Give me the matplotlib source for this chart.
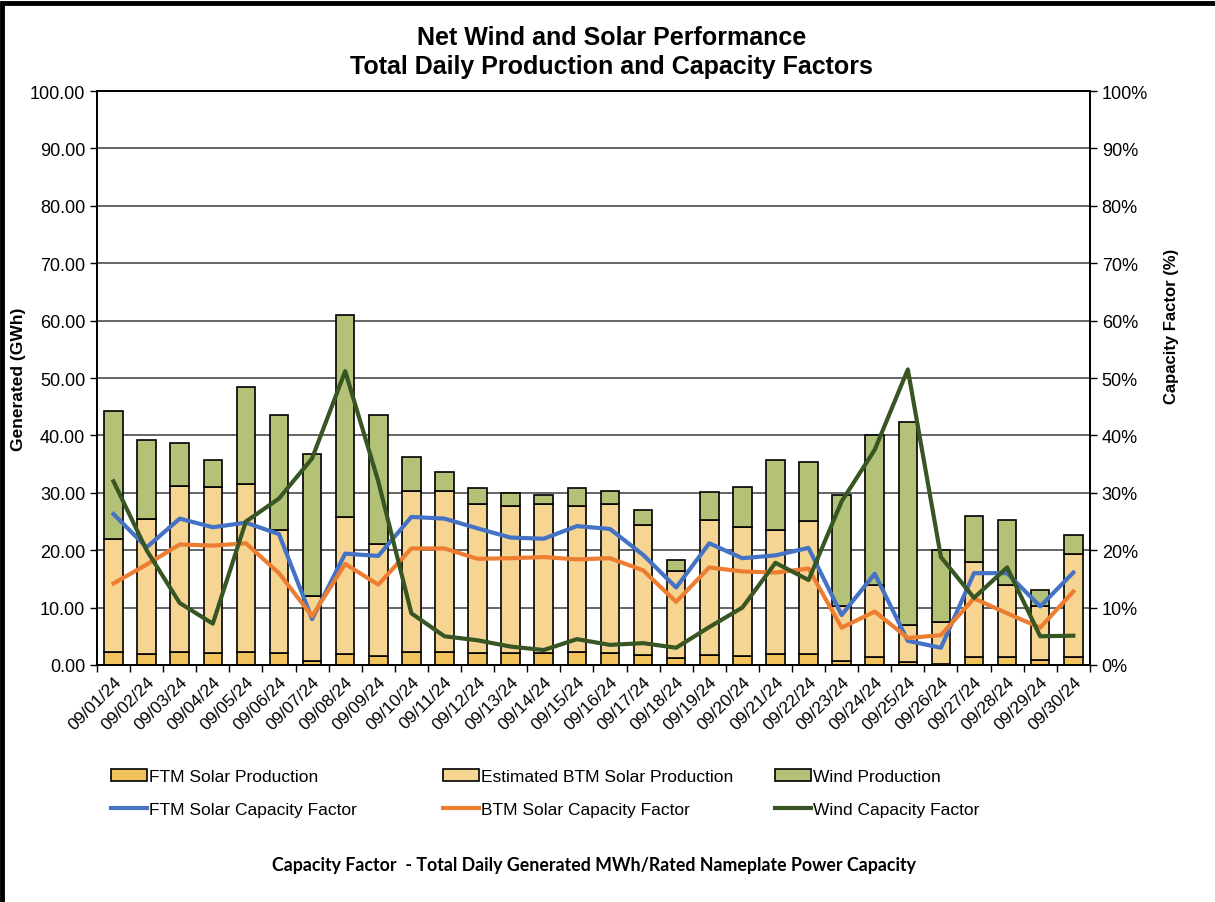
import matplotlib.pyplot as plt
from matplotlib.patches import Rectangle
from matplotlib.ticker import FixedLocator, PercentFormatter
import numpy as np

plt.rcParams['font.family'] = ['Liberation Sans', 'DejaVu Sans']

# Dates (Sept 2024)
dates = ['09/%02d/24' % d for d in range(1, 31)]

# Production (GWh) -- cumulative stack tops
ftm_solar = [2.3, 1.9, 2.3, 2.1, 2.3, 2.1, 0.7, 1.9, 1.6, 2.3,
             2.3, 2.1, 2.1, 2.1, 2.3, 2.1, 1.8, 1.2, 1.8, 1.6,
             1.9, 1.9, 0.7, 1.4, 0.5, 0.2, 1.4, 1.4, 0.9, 1.4]
btm_top = [22.0, 25.5, 31.2, 31.0, 31.5, 23.5, 12.0, 25.8, 21.0, 30.3,
           30.3, 28.0, 27.7, 28.0, 27.7, 28.0, 24.4, 16.3, 25.3, 24.0,
           23.6, 25.1, 10.3, 14.0, 6.9, 7.5, 18.0, 13.9, 10.2, 19.4]
total_top = [44.2, 39.2, 38.7, 35.8, 48.5, 43.5, 36.8, 61.0, 43.5, 36.3,
             33.7, 30.8, 29.9, 29.6, 30.8, 30.3, 27.0, 18.3, 30.2, 31.0,
             35.8, 35.3, 29.6, 40.1, 42.3, 20.1, 26.0, 25.3, 13.1, 22.7]

# Capacity factors (%)
ftm_cf = [26.3, 20.5, 25.5, 24.0, 24.8, 22.8, 8.0, 19.4, 19.0, 25.8,
          25.5, 23.8, 22.2, 22.0, 24.2, 23.7, 19.2, 13.5, 21.2, 18.6,
          19.1, 20.4, 8.7, 15.9, 4.2, 3.0, 16.0, 16.0, 10.2, 16.1]
btm_cf = [14.2, 17.5, 21.0, 20.8, 21.2, 16.0, 8.5, 17.6, 14.0, 20.3,
          20.3, 18.5, 18.6, 18.8, 18.4, 18.6, 16.5, 11.0, 17.0, 16.3,
          16.1, 16.8, 6.5, 9.3, 4.7, 5.2, 11.6, 9.0, 6.5, 12.8]
wind_cf = [32.0, 20.0, 10.8, 7.2, 25.0, 29.0, 36.0, 51.2, 32.0, 9.0,
           5.0, 4.3, 3.2, 2.6, 4.5, 3.5, 3.8, 3.0, 6.6, 10.0,
           17.8, 14.8, 28.5, 37.5, 51.5, 18.8, 11.7, 17.0, 5.0, 5.1]

ftm = np.array(ftm_solar)
btm = np.array(btm_top) - ftm
wind = np.array(total_top) - np.array(btm_top)

fig = plt.figure(figsize=(12.15, 9.03), dpi=100)
ax = fig.add_axes([0.0798, 0.2625, 0.8172, 0.6355])
ax2 = ax.twinx()

x = np.arange(len(dates))
w = 0.56
edge = dict(edgecolor='black', linewidth=1.2)
b1 = ax.bar(x, ftm, w, color='#F2C25C', label='FTM Solar Production', zorder=3, **edge)
b2 = ax.bar(x, btm, w, bottom=ftm, color='#F6D592', label='Estimated BTM Solar Production', zorder=3, **edge)
b3 = ax.bar(x, wind, w, bottom=ftm + btm, color='#B3C276', label='Wind Production', zorder=3, **edge)

l1, = ax2.plot(x, ftm_cf, color='#4472C4', lw=3, label='FTM Solar Capacity Factor')
l2, = ax2.plot(x, btm_cf, color='#ED7D31', lw=3, label='BTM Solar Capacity Factor')
l3, = ax2.plot(x, wind_cf, color='#375623', lw=3, label='Wind Capacity Factor')

ax.set_xlim(-0.5, len(dates) - 0.5)
ax.set_ylim(0, 100)
ax2.set_ylim(0, 100)
ax.set_yticks(np.arange(0, 101, 10))
ax.set_yticklabels(['%.2f' % v for v in range(0, 101, 10)])
ax2.set_yticks(np.arange(0, 101, 10))
ax2.yaxis.set_major_formatter(PercentFormatter(decimals=0))
ax.grid(axis='y', color='#3a3a3a', lw=1.1, zorder=0)
ax.set_axisbelow(True)

ax.set_xticks(x)
ax.set_xticklabels(dates, rotation=45, ha='right', rotation_mode='anchor', fontsize=12.5)
ax.tick_params(axis='x', which='major', length=0, pad=6)
ax.xaxis.set_minor_locator(FixedLocator(np.arange(-0.5, len(dates), 1)))
ax.tick_params(axis='x', which='minor', length=5, width=1, direction='out')
ax.tick_params(axis='y', length=5, width=1, labelsize=13)
ax2.tick_params(axis='y', length=5, width=1, labelsize=13)
for a in (ax, ax2):
    for s in a.spines.values():
        s.set_linewidth(1.3)

ax.set_ylabel('Generated (GWh)', fontsize=12.5, fontweight='bold')
ax.yaxis.set_label_coords(-0.071, 0.5)
ax2.set_ylabel('Capacity Factor (%)', fontsize=12, fontweight='bold')
ax2.yaxis.set_label_coords(1.0745, 0.592)

fig.text(0.503, 0.958, 'Net Wind and Solar Performance', ha='center', va='center',
         fontsize=18, fontweight='bold')
fig.text(0.503, 0.926, 'Total Daily Production and Capacity Factors', ha='center', va='center',
         fontsize=18, fontweight='bold')

# legend: three fixed columns, like the spreadsheet layout
cols = [(b1, l1, 0.087), (b2, l2, 0.3603), (b3, l3, 0.6336)]
for bar_h, line_h, xpos in cols:
    fig.legend([bar_h, line_h], [bar_h.get_label(), line_h.get_label()], loc='upper left',
               bbox_to_anchor=(xpos, 0.153), bbox_transform=fig.transFigure, frameon=False,
               fontsize=12.5, handlelength=2.07, handletextpad=0.1, labelspacing=1.0,
               borderaxespad=0, borderpad=0.3)

fig.text(0.489, 0.042, 'Capacity Factor  - Total Daily Generated MWh/Rated Nameplate Power Capacity',
         ha='center', va='center', fontsize=12.8, fontweight='bold', family=['Lato', 'DejaVu Sans'])

fig.patches.append(Rectangle((0.002, -0.01), 1.2, 1.006, transform=fig.transFigure,
                             fill=False, edgecolor='black', linewidth=3.5))

fig.savefig('out.png', dpi=100)
